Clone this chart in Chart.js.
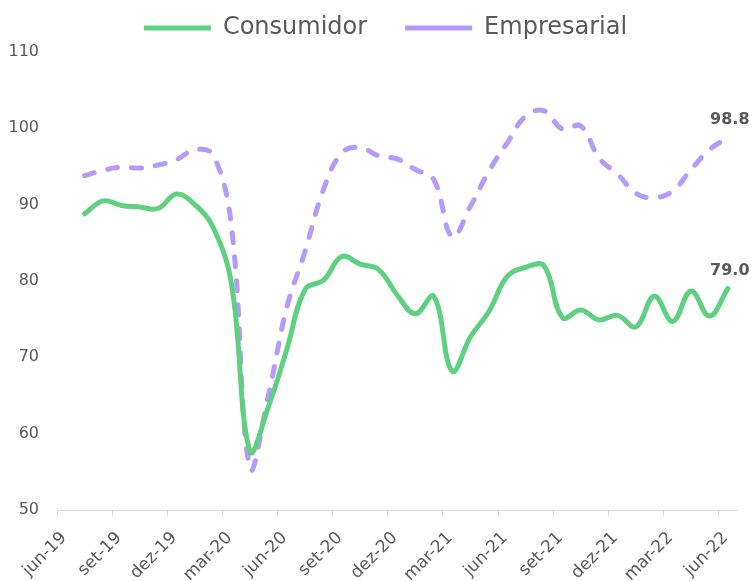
<!DOCTYPE html>
<html>
<head>
<meta charset="utf-8">
<script src="https://cdn.jsdelivr.net/npm/chart.js@4.4.1/dist/chart.umd.min.js"></script>
<style>
  html, body { margin: 0; padding: 0; background: #fff; }
  #wrap { width: 752px; height: 581px; }
</style>
</head>
<body>
<div id="wrap"><canvas id="grafica"></canvas></div>
<script>
// meses com dados (jul-19 .. jun-22)
const meses = ['jul-19','ago-19','set-19','out-19','nov-19','dez-19','jan-20','fev-20','mar-20','abr-20','mai-20','jun-20',
  'jul-20','ago-20','set-20','out-20','nov-20','dez-20','jan-21','fev-21','mar-21','abr-21','mai-21','jun-21',
  'jul-21','ago-21','set-21','out-21','nov-21','dez-21','jan-22','fev-22','mar-22','abr-22','mai-22','jun-22'];

const consumidor = [88.8, 90.5, 89.9, 89.7, 89.5, 91.4, 90.0, 87.0, 79.5, 57.7, 63.5, 71.0,
  78.9, 80.1, 83.2, 82.2, 81.5, 78.2, 75.7, 78.0, 68.2, 72.7, 76.0, 80.6,
  81.8, 82.0, 75.2, 76.2, 74.9, 75.5, 74.0, 78.0, 74.7, 78.7, 75.4, 79.0];

const empresarial = [93.8, 94.5, 94.9, 94.8, 95.2, 95.9, 97.2, 96.5, 87.0, 55.5, 65.0, 76.5,
  83.9, 92.0, 96.8, 97.5, 96.4, 96.0, 94.6, 93.3, 85.8, 89.8, 94.4, 98.1,
  101.6, 102.3, 99.9, 100.3, 96.1, 94.0, 91.5, 90.9, 91.8, 94.6, 97.2, 98.8];

// rótulos do eixo x, um a cada 3 meses a partir de jun-19
const rotulosX = ['jun-19','set-19','dez-19','mar-20','jun-20','set-20','dez-20','mar-21','jun-21','set-21','dez-21','mar-22','jun-22'];

const verde = 'rgb(95, 207, 128)';
const roxo = 'rgb(182, 153, 250)';
const cinza = '#595959';
const fonte = "'DejaVu Sans', sans-serif";

// eixo contínuo: cada mês ocupa uma unidade, ponto no meio do mês
function pontos(valores) {
  return valores.map((v, i) => ({ x: i + 1.5, y: v }));
}

// legenda mais alta, para o gráfico começar no mesmo lugar
const legendaAltura = {
  id: 'legendaAltura',
  beforeInit(chart) {
    const fit = chart.legend.fit;
    chart.legend.fit = function () {
      fit.bind(chart.legend)();
      this.height = 74;
      if (this.lineWidths && this.lineWidths.length) this.lineWidths[0] -= 34; // empurra um pouco para a direita
    };
  }
};

const rotuloFinal = {
  id: 'rotuloFinal',
  afterDatasetsDraw(chart) {
    const ctx = chart.ctx;
    ctx.save();
    ctx.font = "bold 16px " + fonte;
    ctx.fillStyle = cinza;
    ctx.textAlign = 'center';
    ctx.textBaseline = 'bottom';
    chart.data.datasets.forEach((ds, i) => {
      const meta = chart.getDatasetMeta(i);
      const p = meta.data[meta.data.length - 1];
      const v = ds.data[ds.data.length - 1].y;
      ctx.fillText(v.toFixed(1), p.x + 2, p.y - 10);
    });
    ctx.restore();
  }
};

const ctx = document.getElementById('grafica').getContext('2d');
const myChart = new Chart(ctx, {
  type: 'line',
  data: {
    datasets: [{
      label: 'Consumidor',
      data: pontos(consumidor),
      borderColor: verde,
      backgroundColor: verde,
      borderWidth: 5,
      borderCapStyle: 'round',
      pointRadius: 0,
      tension: 0.4
    }, {
      label: 'Empresarial',
      data: pontos(empresarial),
      borderColor: roxo,
      backgroundColor: roxo,
      borderWidth: 5,
      borderDash: [10, 14],
      borderCapStyle: 'round',
      pointRadius: 0,
      tension: 0.4
    }]
  },
  options: {
    responsive: true,
    maintainAspectRatio: false,
    animation: false,
    layout: { padding: { left: 0, right: 15, top: -22, bottom: 0 } },
    plugins: {
      legend: {
        position: 'top',
        labels: {
          usePointStyle: true,
          pointStyle: 'line',
          pointStyleWidth: 67,
          padding: 38,
          color: cinza,
          font: { family: fonte, size: 24 }
        }
      },
      tooltip: { enabled: false }
    },
    scales: {
      x: {
        type: 'linear',
        min: 0,
        max: 37,
        afterBuildTicks: s => {
          s.ticks = rotulosX.map((r, i) => ({ value: i * 3 }));
        },
        afterFit: s => { s.height = 71; },
        ticks: {
          autoSkip: false,
          minRotation: 45,
          maxRotation: 45,
          padding: 12,
          labelOffset: 7,
          color: cinza,
          font: { family: fonte, size: 17 },
          callback: v => rotulosX[Math.round(v / 3)]
        },
        grid: {
          drawOnChartArea: false,
          drawTicks: true,
          tickLength: 6,
          color: '#d9d9d9'
        },
        border: { display: true, color: '#d9d9d9', width: 1 }
      },
      y: {
        min: 50,
        max: 110,
        afterFit: s => { s.width = 57; },
        ticks: {
          stepSize: 10,
          padding: 10,
          color: cinza,
          font: { family: fonte, size: 16 }
        },
        grid: { display: false },
        border: { display: false }
      }
    }
  },
  plugins: [legendaAltura, rotuloFinal]
});
</script>
</body>
</html>
